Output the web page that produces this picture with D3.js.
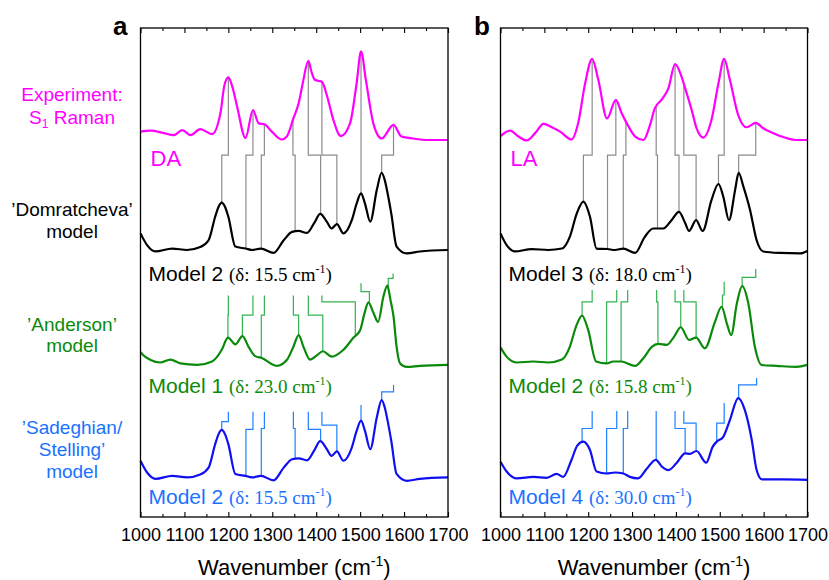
<!DOCTYPE html>
<html>
<head>
<meta charset="utf-8">
<script src="https://cdn.jsdelivr.net/npm/d3@7"></script>
<style>
  body { margin: 0; background: #fff; }
  svg { display: block; }
</style>
</head>
<body>
<svg id="chart" width="829" height="580"></svg>
<script>
// ---- axis ----
const wnDomain = [1000, 1700];
const majorTicks = [1000, 1100, 1200, 1300, 1400, 1500, 1600, 1700];
const minorTicks = [1050, 1150, 1250, 1350, 1450, 1550, 1650];

// ---- vertical layout: each spectrum sits on its own baseline (panel spans 0–100) ----
const rowBase = { exp: 77, dom: 54.5, and: 31, sad: 8 };

// ---- spectra: [wavenumber, intensity above row baseline] ----
// Panel a: DA
const expDA = [
  [1000,1.8],[1023,2.0],[1053,1.5],[1076,1.1],[1095,2.1],[1114,1.1],[1136,2.3],[1163,1.3],
  [1182,5.6],[1191,11.3],[1200,12.9],[1209,11.0],[1220,6.9],[1239,0.5],[1256,6.2],[1269,3.5],
  [1282,3.3],[1299,1.8],[1322,0.2],[1333,0.8],[1348,4.5],[1360,7.6],[1370,12.0],[1382,16.3],
  [1389,14.1],[1397,12.4],[1413,12.0],[1424,9.3],[1439,4.2],[1456,0.9],[1477,3.5],[1492,11.7],
  [1502,18.2],[1513,12.4],[1530,3.5],[1549,0.4],[1576,3.2],[1594,0.8],[1621,0.4],[1650,0.1],[1700,0.1]
];
// Model 2 (δ 15.5 cm-1): drawn for the Domratcheva and the Sadeghian/Stelling rows
const model2A = [
  [1000,3.5],[1015,1.1],[1034,-0.2],[1072,0.4],[1106,0.1],[1136,0.7],[1155,2.1],[1170,6.9],
  [1178,9.0],[1185,9.8],[1192,9.0],[1200,6.9],[1216,0.8],[1239,0.4],[1254,0.1],[1274,0.4],
  [1303,-0.5],[1326,2.1],[1345,3.8],[1360,4.0],[1379,3.6],[1396,5.7],[1409,7.5],[1424,5.9],
  [1435,4.5],[1447,5.4],[1462,3.5],[1481,6.2],[1492,9.6],[1502,11.7],[1511,9.6],[1523,5.9],
  [1538,12.4],[1549,15.9],[1556,14.4],[1564,11.0],[1571,7.5],[1583,0.8],[1606,-0.6],[1636,-0.2],[1700,0.1]
];
// Model 1 (δ 23.0 cm-1): Anderson row
const model1A = [
  [1000,2.7],[1004,2.3],[1023,1.1],[1045,0.6],[1068,1.2],[1091,0.4],[1129,0.1],[1163,0.8],
  [1185,3.2],[1199,5.7],[1216,4.3],[1232,6.0],[1246,3.8],[1261,1.9],[1276,1.5],[1310,-0.1],
  [1333,1.1],[1348,3.8],[1360,6.2],[1371,3.8],[1386,1.2],[1402,2.1],[1415,2.9],[1435,1.8],
  [1462,3.2],[1485,5.7],[1500,7.2],[1510,10.7],[1519,12.9],[1530,10.8],[1541,8.9],[1553,14.1],
  [1562,16.3],[1569,13.4],[1576,10.0],[1583,3.8],[1591,0.4],[1606,-0.3],[1636,-0.1],[1700,0.1]
];

// Panel b: LA
const expLA = [
  [1000,0.9],[1022,2.0],[1041,0.8],[1060,0.0],[1079,1.5],[1098,3.4],[1117,2.7],[1136,1.8],
  [1162,0.2],[1177,3.5],[1193,11.7],[1209,16.7],[1223,12.4],[1243,4.5],[1263,8.3],[1276,5.6],
  [1288,3.5],[1307,0.8],[1326,0.1],[1341,3.2],[1352,6.6],[1368,8.4],[1383,10.7],[1398,15.6],
  [1413,13.0],[1421,10.7],[1436,6.2],[1447,2.5],[1462,0.6],[1481,4.2],[1497,11.7],[1510,16.7],
  [1523,12.4],[1542,5.2],[1561,2.7],[1582,3.6],[1599,2.5],[1622,1.5],[1645,0.7],[1675,0.1],[1700,0.1]
];
// Model 3 (δ 18.0 cm-1): Domratcheva row
const model3B = [
  [1000,3.5],[1014,1.1],[1033,-0.2],[1071,0.3],[1109,0.1],[1140,0.4],[1158,2.8],[1174,7.6],
  [1189,10.0],[1204,6.9],[1219,0.4],[1244,0.3],[1261,0.1],[1280,0.4],[1307,-0.5],[1329,2.8],
  [1348,4.5],[1371,4.5],[1390,6.2],[1407,7.9],[1421,5.6],[1430,4.0],[1446,6.2],[1461,4.0],
  [1481,10.3],[1497,13.6],[1508,11.0],[1521,6.2],[1535,12.4],[1543,15.9],[1554,13.0],[1569,8.3],
  [1584,2.1],[1599,-0.2],[1637,-0.5],[1683,-0.6],[1700,-0.1]
];
// Model 2 (δ 15.8 cm-1): Anderson row
const model2B = [
  [1000,3.7],[1014,1.8],[1037,0.6],[1075,0.8],[1109,0.6],[1140,1.2],[1158,3.8],[1172,7.9],
  [1186,10.2],[1200,7.2],[1218,0.8],[1242,0.4],[1257,0.8],[1275,0.8],[1307,-0.1],[1326,1.5],
  [1345,3.8],[1360,4.4],[1379,4.2],[1396,5.9],[1411,7.8],[1430,5.2],[1446,5.7],[1466,3.5],
  [1489,8.9],[1504,12.0],[1517,8.3],[1526,6.2],[1539,12.7],[1551,16.2],[1565,12.7],[1580,3.8],
  [1595,0.1],[1630,-0.1],[1675,-0.3],[1700,0.1]
];
// Model 4 (δ 30.0 cm-1): Sadeghian/Stelling row
const model4B = [
  [1000,3.3],[1014,1.3],[1037,-0.1],[1075,0.2],[1105,0.0],[1128,0.8],[1143,0.2],[1162,3.7],
  [1175,6.6],[1189,7.4],[1204,5.7],[1219,1.3],[1242,0.9],[1261,1.1],[1280,0.9],[1295,0.2],
  [1314,-0.1],[1333,1.8],[1354,3.7],[1368,2.3],[1383,1.6],[1402,3.1],[1421,5.0],[1432,4.9],
  [1447,5.5],[1469,3.1],[1484,6.4],[1493,7.4],[1508,8.4],[1523,11.8],[1542,16.3],[1557,13.9],
  [1573,7.7],[1584,1.6],[1596,-0.3],[1645,-0.3],[1700,-0.4]
];

// ---- band assignments ----
// experiment -> Domratcheva row: [experimental band, model band]
const expLinksA = [[1200,1185],[1256,1240],[1282,1275],[1347,1352],[1382,1410],[1413,1447],[1502,1502],[1576,1549]];
const expLinksB = [[1209,1189],[1263,1244],[1286,1280],[1355,1358],[1398,1407],[1418,1446],[1510,1497],[1582,1543]];
const expJog = 74.0;
// lower rows: [band, model band, start level, step level]
const andLinksA = [[1200,1199,45.3,41.3],[1256,1232,45.3,41.3],[1282,1275,45.3,41.3],[1348,1360,45.3,41.3],
                   [1382,1415,45.3,41.3],[1413,1489,45.3,44.0],[1502,1521,47.8,46.1],[1575,1564,49.8,48.8]];
const sadLinksA = [[1200,1185,21.5,19.5],[1256,1240,21.5,17.9],[1282,1275,21.5,18.1],[1348,1352,21.5,18.1],
                   [1382,1410,21.5,17.9],[1413,1447,21.5,18.8],[1502,1502,22.9,22.9],[1576,1549,27.0,25.6]];
const andLinksB = [[1209,1186,46.4,44.0],[1265,1242,46.4,44.0],[1290,1275,46.4,44.0],[1356,1359,46.4,44.0],
                   [1398,1411,46.4,44.0],[1418,1446,46.4,44.0],[1510,1506,48.1,45.4],[1582,1551,50.7,49.0]];
const sadLinksB = [[1209,1186,21.7,18.1],[1265,1242,21.7,18.1],[1290,1280,21.7,18.1],[1355,1355,21.7,18.1],
                   [1398,1421,21.7,18.1],[1418,1446,21.7,19.2],[1510,1493,23.3,19.2],[1584,1543,28.4,27.0]];

// ---- labels ----
const sampleNames = ["DA", "LA"];
const modelLabelsA = [["Model 2", "15.5"], ["Model 1", "23.0"], ["Model 2", "15.5"]];
const modelLabelsB = [["Model 3", "18.0"], ["Model 2", "15.8"], ["Model 4", "30.0"]];

// ---- styling ----
const C = {
  exp: "#ff00ff", dom: "#000000", and: "#0a8a0a", sad: "#0f0ff2",
  expLink: "#8c8c8c", andLink: "#33b350", sadLink: "#1f80ff",
  andText: "#0a8a0a", sadText: "#1a72ff"
};
const SANS = "'Liberation Sans', Arial, sans-serif";
const SERIF = "'Liberation Serif', 'Times New Roman', serif";

const svg = d3.select("#chart");
const plotTop = 28, plotBottom = 517;
const y = d3.scaleLinear().domain([0, 100]).range([plotBottom, plotTop]);

function valueAt(data, wn) {
  for (let i = 1; i < data.length; i++) {
    if (wn <= data[i][0]) {
      const [x0, v0] = data[i - 1], [x1, v1] = data[i];
      return v0 + (v1 - v0) * (wn - x0) / (x1 - x0);
    }
  }
  return data[data.length - 1][1];
}

function drawPanel(cfg) {
  const x = d3.scaleLinear().domain(wnDomain).range([cfg.left, cfg.right]);
  const g = svg.append("g");

  const line = (base) => d3.line()
    .x(d => x(d[0]))
    .y(d => y(base + d[1]))
    .curve(d3.curveMonotoneX);

  // connectors
  const link = (x1, yTop, yJog, x2, yBot) =>
    `M${x(x1)},${y(yTop)}V${y(yJog)}H${x(x2)}V${y(yBot)}`;

  g.append("g").selectAll("path").data(cfg.expLinks).join("path")
    .attr("d", d => link(d[0], rowBase.exp + valueAt(cfg.exp, d[0]), expJog, d[1], rowBase.dom + valueAt(cfg.dom, d[1])))
    .attr("fill", "none").attr("stroke", C.expLink).attr("stroke-width", 1.2);
  g.append("g").selectAll("path").data(cfg.andLinks).join("path")
    .attr("d", d => link(d[0], d[2], d[3], d[1], rowBase.and + valueAt(cfg.and, d[1])))
    .attr("fill", "none").attr("stroke", C.andLink).attr("stroke-width", 1.2);
  g.append("g").selectAll("path").data(cfg.sadLinks).join("path")
    .attr("d", d => link(d[0], d[2], d[3], d[1], rowBase.sad + valueAt(cfg.sad, d[1])))
    .attr("fill", "none").attr("stroke", C.sadLink).attr("stroke-width", 1.2);

  // spectra
  [["exp", cfg.exp], ["dom", cfg.dom], ["and", cfg.and], ["sad", cfg.sad]].forEach(([k, data]) => {
    g.append("path").datum(data)
      .attr("d", line(rowBase[k]))
      .attr("fill", "none").attr("stroke", C[k]).attr("stroke-width", 2.2)
      .attr("stroke-linejoin", "round");
  });

  // frame
  g.append("rect")
    .attr("x", cfg.left).attr("y", plotTop)
    .attr("width", cfg.right - cfg.left).attr("height", plotBottom - plotTop)
    .attr("fill", "none").attr("stroke", "#000").attr("stroke-width", 1.3);

  // ticks (inward) and labels
  const axB = g.append("g").attr("transform", `translate(0,${plotBottom})`)
    .call(d3.axisBottom(x).tickValues(majorTicks).tickSize(-5).tickPadding(11).tickFormat(d3.format("d")));
  g.append("g").attr("transform", `translate(0,${plotBottom})`)
    .call(d3.axisBottom(x).tickValues(minorTicks).tickSize(-3).tickFormat(""));
  g.append("g").attr("transform", `translate(0,${plotTop})`)
    .call(d3.axisTop(x).tickValues(majorTicks).tickSize(-5).tickFormat(""));
  g.append("g").attr("transform", `translate(0,${plotTop})`)
    .call(d3.axisTop(x).tickValues(minorTicks).tickSize(-3).tickFormat(""));
  g.selectAll(".domain").remove();
  g.selectAll(".tick line").attr("stroke", "#000").attr("stroke-width", 1.1);
  axB.selectAll("text").attr("font-family", SANS).attr("font-size", 18).attr("fill", "#000");

  // axis title
  const t = g.append("text")
    .attr("x", (cfg.left + cfg.right) / 2).attr("y", 575)
    .attr("text-anchor", "middle").attr("font-family", SANS).attr("font-size", 22);
  t.append("tspan").text("Wavenumber (cm");
  t.append("tspan").attr("dy", -9).attr("font-size", 14).text("-1");
  t.append("tspan").attr("dy", 9).text(")");

  // panel letter
  svg.append("text").attr("x", cfg.letterX).attr("y", 35)
    .attr("font-family", SANS).attr("font-weight", "bold").attr("font-size", 26)
    .text(cfg.letter);

  // sample name
  g.append("text").attr("x", cfg.left + 10).attr("y", 166)
    .attr("font-family", SANS).attr("font-size", 22).attr("fill", C.exp)
    .text(cfg.sample);

  // model labels
  const rows = [[281, "#000"], [393, C.andText], [504, C.sadText]];
  cfg.models.forEach((m, i) => {
    const tx = g.append("text").attr("x", cfg.left + 8).attr("y", rows[i][0])
      .attr("fill", rows[i][1]);
    tx.append("tspan").attr("font-family", SANS).attr("font-size", 21).text(m[0] + " ");
    tx.append("tspan").attr("font-family", SERIF).attr("font-size", 19).text(`(δ: ${m[1]} cm`);
    tx.append("tspan").attr("font-family", SERIF).attr("font-size", 12).attr("dy", -8).text("-1");
    tx.append("tspan").attr("font-family", SERIF).attr("font-size", 19).attr("dy", 8).text(")");
  });
}

drawPanel({
  left: 140.5, right: 448, letter: "a", letterX: 113, sample: sampleNames[0],
  exp: expDA, dom: model2A, and: model1A, sad: model2A,
  expLinks: expLinksA, andLinks: andLinksA, sadLinks: sadLinksA, models: modelLabelsA
});
drawPanel({
  left: 500.5, right: 807.5, letter: "b", letterX: 474, sample: sampleNames[1],
  exp: expLA, dom: model3B, and: model2B, sad: model4B,
  expLinks: expLinksB, andLinks: andLinksB, sadLinks: sadLinksB, models: modelLabelsB
});

// row names on the left
const rowNames = [
  { lines: ["’Domratcheva’", "model"], ys: [216, 238], color: "#000" },
  { lines: ["’Anderson’", "model"], ys: [331, 352], color: C.andText },
  { lines: ["’Sadeghian/", "Stelling’", "model"], ys: [434, 456, 478], color: C.sadText }
];
const cx = 72;
const expLabel = svg.append("g").attr("font-family", SANS).attr("font-size", 19)
  .attr("fill", C.exp).attr("text-anchor", "middle");
expLabel.append("text").attr("x", cx).attr("y", 101).text("Experiment:");
const s1 = expLabel.append("text").attr("x", cx).attr("y", 124);
s1.append("tspan").text("S");
s1.append("tspan").attr("font-size", 12).attr("dy", 4).text("1");
s1.append("tspan").attr("dy", -4).text(" Raman");
rowNames.forEach(r => {
  r.lines.forEach((l, i) => {
    svg.append("text").attr("x", cx).attr("y", r.ys[i])
      .attr("text-anchor", "middle").attr("font-family", SANS).attr("font-size", 19)
      .attr("fill", r.color).text(l);
  });
});
</script>
</body>
</html>
